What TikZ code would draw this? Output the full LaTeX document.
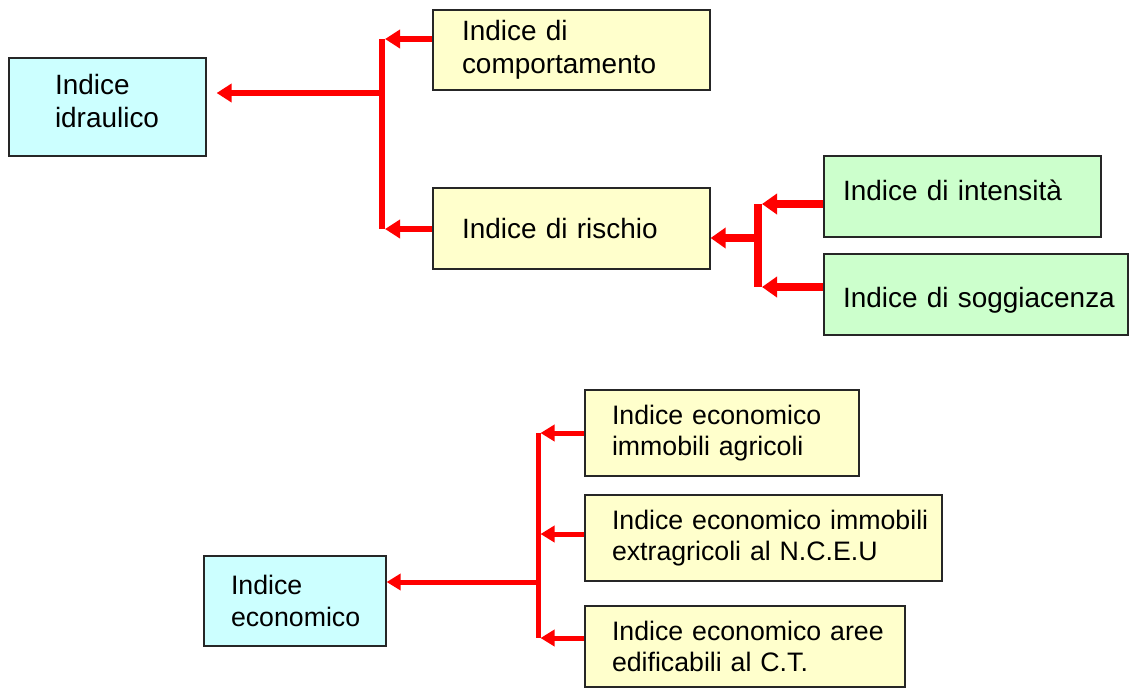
\documentclass[tikz,border=0pt]{standalone}
\usepackage{fontspec}
\setmainfont{Liberation Sans}
\usetikzlibrary{arrows.meta,positioning,calc}

\definecolor{idxcyan}{HTML}{CCFFFF}
\definecolor{idxyellow}{HTML}{FFFFCC}
\definecolor{idxgreen}{HTML}{CCFFCC}

\begin{document}
\begin{tikzpicture}[
	x=1cm,y=1cm,
	>=Latex,
	every node/.style={font=\fontsize{15.9}{18.7}\selectfont},
	idx/.style={draw=black!85, line width=0.7pt, align=left, inner ysep=0pt,
		execute at begin node={\hyphenpenalty=10000\exhyphenpenalty=10000}},
	small idx/.style={idx, font=\fontsize{15.2}{18.1}\selectfont},
	link/.style={draw=red, line width=0.12cm, line join=miter},
	arr/.style={link, -{Triangle[length=0.3cm,width=0.36cm]}},
	thick link/.style={draw=red, line width=0.15cm, line join=miter},
	thick arr/.style={thick link, -{Triangle[length=0.3cm,width=0.4cm]}},
	thin link/.style={draw=red, line width=0.1cm, line join=miter},
	thin arr/.style={thin link, -{Triangle[length=0.28cm,width=0.32cm]}}
	]
	
	\useasboundingbox (0,0) rectangle (22.58,-13.76);
	
	% --------------------------
	% Top: hydraulic index
	% --------------------------
	\node[idx, fill=idxcyan, minimum width=3.94cm, minimum height=1.96cm, inner xsep=0.92cm, text width=2.10cm, text depth=0.90cm] (idr) at (2.15,-2.14) {Indice\\idraulico};
	\node[idx, fill=idxyellow, minimum width=5.54cm, minimum height=1.60cm, inner xsep=0.58cm, text width=4.38cm] (comp) at (11.43,-1.00) {Indice~di\\comportamento};
	\node[idx, fill=idxyellow, minimum width=5.54cm, minimum height=1.62cm, inner xsep=0.58cm, text width=4.38cm] (risc) at (11.43,-4.57) {Indice~di~rischio};
	\node[idx, fill=idxgreen, minimum width=5.54cm, minimum height=1.62cm, inner xsep=0.38cm, text width=4.78cm, text depth=0.24cm] (int) at (19.25,-3.93) {Indice~di~intensità};
	\node[idx, fill=idxgreen, minimum width=6.08cm, minimum height=1.62cm, inner xsep=0.38cm, text width=5.32cm, text height=0.64cm] (sog) at (19.52,-5.89) {Indice~di~soggiacenza};
	
	% junctions
	\coordinate (jcomp) at (7.64,-0.78);
	\coordinate (jrisc) at (7.64,-4.58);
	\coordinate (jidr) at (7.64,-1.86);
	\coordinate (jint) at (15.16,-4.08);
	\coordinate (jsog) at (15.16,-5.74);
	\coordinate (jmid) at (15.16,-4.76);
	
	\draw[link] (jcomp) -- (jrisc);
	\draw[arr] (comp.west |- jcomp) -- ([xshift=0.06cm]jcomp);
	\draw[arr] (risc.west |- jrisc) -- ([xshift=0.06cm]jrisc);
	\draw[arr, shorten >=0.2cm] (jidr) -- (jidr -| idr.east);
	
	\draw[thick link] (jint) -- (jsog);
	\draw[thick arr] (int.west |- jint) -- ([xshift=0.08cm]jint);
	\draw[thick arr] (sog.west |- jsog) -- ([xshift=0.08cm]jsog);
	\draw[thick arr] (jmid) -- (jmid -| risc.east);
	
	% --------------------------
	% Bottom: economic index
	% --------------------------
	\node[small idx, fill=idxcyan, minimum width=3.64cm, minimum height=1.80cm, inner xsep=0.54cm, text width=2.56cm] (eco) at (5.90,-12.02) {Indice\\economico};
	\node[small idx, fill=idxyellow, minimum width=5.48cm, minimum height=1.72cm, inner xsep=0.54cm, text width=4.40cm] (agr) at (14.44,-8.66) {Indice~economico\\immobili~agricoli};
	\node[small idx, fill=idxyellow, minimum width=7.14cm, minimum height=1.72cm, inner xsep=0.54cm, text width=6.06cm] (ext) at (15.27,-10.76) {Indice~economico~immobili\\extragricoli~al~N.C.E.U};
	\node[small idx, fill=idxyellow, minimum width=6.40cm, minimum height=1.62cm, inner xsep=0.54cm, text width=5.32cm] (aree) at (14.90,-12.93) {Indice~economico~aree\\edificabili~al~C.T.};
	
	% junctions
	\coordinate (jagr) at (10.76,-8.66);
	\coordinate (jext) at (10.76,-10.68);
	\coordinate (jaree) at (10.76,-12.76);
	\coordinate (jeco) at (10.76,-11.64);
	
	\draw[thin link] (jagr) -- (jaree);
	\draw[thin arr] (agr.west |- jagr) -- ([xshift=0.05cm]jagr);
	\draw[thin arr] (ext.west |- jext) -- ([xshift=0.05cm]jext);
	\draw[thin arr] (aree.west |- jaree) -- ([xshift=0.05cm]jaree);
	\draw[thin arr] (jeco) -- (jeco -| eco.east);
	
\end{tikzpicture}
\end{document}
